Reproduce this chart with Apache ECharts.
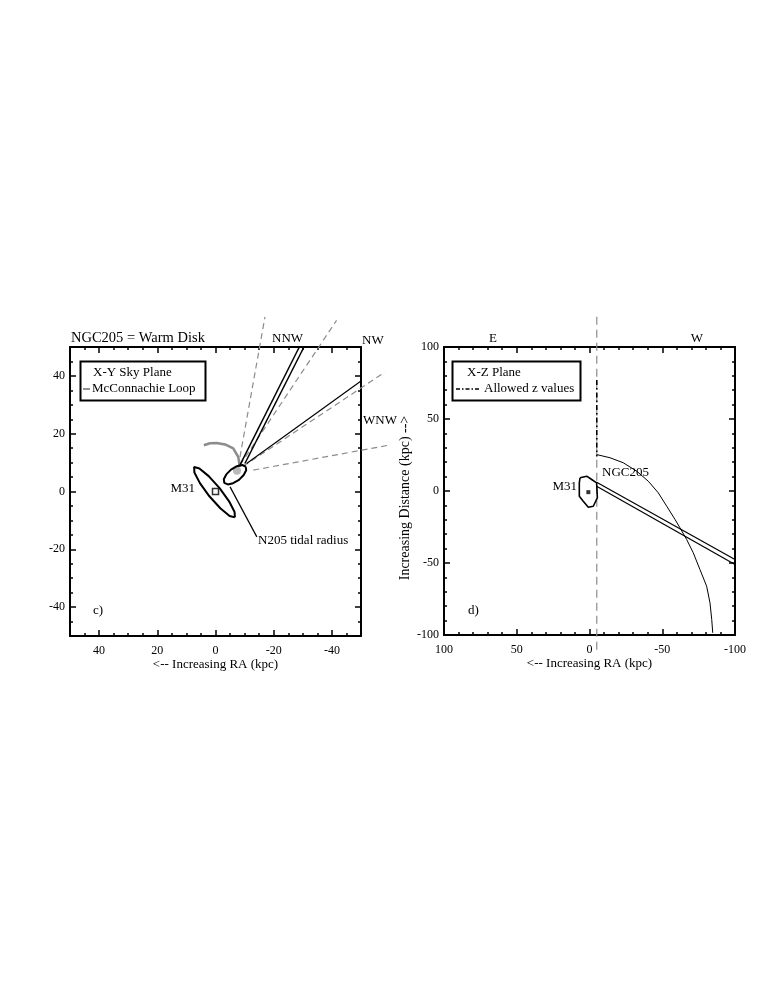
<!DOCTYPE html>
<html><head><meta charset="utf-8">
<script src="https://cdn.jsdelivr.net/npm/echarts@6/dist/echarts.min.js"></script>
<style>html,body{margin:0;padding:0;background:#fff}#c{width:772px;height:998px}</style>
</head><body><div id="c"></div><script>
// ---------- tick labels ----------
const xyMajorTicks = [-40, -20, 0, 20, 40];
const xzMajorTicks = [-100, -50, 0, 50, 100];

// ---------- panel c) X-Y sky plane (kpc) ----------
const m31Ellipse = [[-6.67,-8.95],[-6.56,-7.09],[-4.67,-3.39],[-1.41,1.18],[2.34,5.32],[5.53,7.98],[7.35,8.47],[7.25,6.60],[5.36,2.90],[2.10,-1.66],[-1.65,-5.81],[-4.85,-8.47],[-6.67,-8.95]];
const n205Ellipse = [[-10.38,8.64],[-10.55,7.36],[-9.69,5.70],[-8.08,4.04],[-6.05,2.87],[-4.23,2.45],[-3.02,2.97],[-2.85,4.25],[-3.71,5.91],[-5.33,7.57],[-7.35,8.75],[-9.18,9.16],[-10.38,8.64]];
const m31CenterXY = [[0, 0]];
const n205Core = [[-7.4, 7.2]];
const mcconnachieLoop = [[4.0,16.0],[1.9,16.7],[-0.4,16.8],[-3.3,16.3],[-6.1,14.9],[-7.8,12.0],[-8.4,8.5]];
const nnwLineA = [[-8.4,9.1],[-28.8,50]];
const nnwLineB = [[-10.1,9.7],[-30.4,50]];
const nwLine = [[-10.7,9.7],[-50,38.2]];
const fanDash1 = [[-7.8,8.5],[-17.0,60.4]];
const fanDash2 = [[-8.4,9.1],[-41.6,59.2]];
const fanDash3 = [[-9.5,8.7],[-58.2,41.3]];
const fanDash4 = [[-13.0,7.4],[-59.4,16.0]];
const tidalLeader = [[-5.0,1.6],[-14.2,-15.7]];

// ---------- panel d) X-Z plane (kpc) ----------
const m31Contour = [[6.5,9.2],[1.9,10.3],[-1.5,8.0],[-4.9,5.7],[-5.4,-4.7],[-2.6,-10.6],[0.8,-11.3],[4.3,-7.1],[7.0,-3.6],[7.0,5.7],[6.5,9.2]];
const m31CenterXZ = [[0.8, -0.8]];
const n205Column = [[-5,121],[-5,-112]];
const allowedZ = [[-5,77],[-5,24]];
const boundArc = [[-4.9,25.3],[-14.1,23.1],[-23.2,19.6],[-32.4,13.8],[-40.4,6.8],[-47.3,-1.3],[-53.1,-10.6],[-58.8,-19.8],[-62.2,-25.6],[-66.8,-33.7],[-71.3,-42.9],[-75.9,-54.5],[-80.5,-66.1],[-82.8,-77.6],[-84.0,-89.2],[-84.7,-98.5]];
const losA = [[-4.9,6.1],[-100,-47.6]];
const losB = [[-4.9,3.3],[-100,-51.0]];

// ---------- styling ----------
const FONT = '"Liberation Serif","DejaVu Serif",serif';
const BLACK = '#000';
const GREY = '#8c8c8c';

function lineSeries(name, data, xi, yi, style, clip) {
  return {
    name: name, type: 'line', data: data, xAxisIndex: xi, yAxisIndex: yi,
    symbol: 'none', showSymbol: false, silent: true, clip: clip !== false,
    lineStyle: Object.assign({ color: BLACK, width: 1.3 }, style), z: 3
  };
}

// straight segment that may run past the frame (drawn through the axes' scales, unclipped)
function segSeries(name, pts, xi, yi, color, width, dash) {
  return {
    name: name, type: 'custom', xAxisIndex: xi, yAxisIndex: yi, clip: false, silent: true, z: 3,
    data: [pts[0].concat(pts[1])],
    encode: { x: [0, 2], y: [1, 3] },
    renderItem: function (params, api) {
      const p1 = api.coord([api.value(0), api.value(1)]);
      const p2 = api.coord([api.value(2), api.value(3)]);
      return { type: 'line', shape: { x1: p1[0], y1: p1[1], x2: p2[0], y2: p2[1] },
               style: { stroke: color, lineWidth: width, lineDash: dash || null, fill: null } };
    }
  };
}

function xyAxes(dim, grid, pos, withLabels) {
  const isX = dim === 'x';
  const base = {
    gridIndex: grid, type: 'value', min: -50, max: 50, position: pos,
    inverse: isX, splitLine: { show: false }
  };
  const minor = Object.assign({}, base, {
    interval: 5,
    axisLine: { show: true, onZero: false, lineStyle: { color: BLACK, width: 2 } },
    axisTick: { show: true, inside: true, length: 3, lineStyle: { color: BLACK, width: 1.5 } },
    axisLabel: {
      show: withLabels, interval: 0, margin: isX ? 9 : 5, color: BLACK,
      fontFamily: FONT, fontSize: 12,
      formatter: function (v) { const r = Math.round(v); return xyMajorTicks.indexOf(r) >= 0 ? String(r) : ''; }
    }
  });
  const major = Object.assign({}, base, {
    axisLine: { show: false, onZero: false },
    axisTick: { show: true, inside: true, length: 6, customValues: xyMajorTicks, lineStyle: { color: BLACK, width: 1.5 } },
    axisLabel: { show: false }
  });
  return [minor, major];
}

function xzAxis(dim, grid, pos, withLabels) {
  const isX = dim === 'x';
  return {
    gridIndex: grid, type: 'value', min: -100, max: 100, interval: 50, position: pos,
    inverse: isX, splitLine: { show: false },
    axisLine: { show: true, onZero: false, lineStyle: { color: BLACK, width: 2 } },
    axisTick: { show: true, inside: true, length: 6, lineStyle: { color: BLACK, width: 1.5 } },
    minorTick: { show: true, splitNumber: 5, length: 3, lineStyle: { color: BLACK, width: 1.5 } },
    axisLabel: { show: withLabels, margin: isX ? 9 : 5, color: BLACK, fontFamily: FONT, fontSize: 12 }
  };
}

const xAxes = [].concat(
  xyAxes('x', 0, 'bottom', true),   // 0,1
  xyAxes('x', 0, 'top', false),     // 2,3
  [xzAxis('x', 1, 'bottom', true),  // 4
   xzAxis('x', 1, 'top', false)]    // 5
);
xAxes[0].name = '<-- Increasing RA (kpc)';
xAxes[4].name = '<-- Increasing RA (kpc)';
[0, 4].forEach(function (i) {
  xAxes[i].nameLocation = 'middle';
  xAxes[i].nameGap = 21;
  xAxes[i].nameTextStyle = { fontFamily: FONT, fontSize: 13, color: BLACK };
});

const yAxes = [].concat(
  xyAxes('y', 0, 'left', true),     // 0,1
  xyAxes('y', 0, 'right', false),   // 2,3
  [xzAxis('y', 1, 'left', true),    // 4
   xzAxis('y', 1, 'right', false)]  // 5
);
yAxes[4].name = 'Increasing Distance (kpc) -->';
yAxes[4].nameLocation = 'middle';
yAxes[4].nameRotate = 90;
yAxes[4].nameGap = 32;
yAxes[4].nameTextStyle = { fontFamily: FONT, fontSize: 14, color: BLACK, padding: [0, 14, 0, 0] };

const series = [
  // panel c
  segSeries('fan1', fanDash1, 0, 0, GREY, 1.2, [6, 4]),
  segSeries('fan2', fanDash2, 0, 0, GREY, 1.2, [6, 4]),
  segSeries('fan3', fanDash3, 0, 0, GREY, 1.2, [6, 4]),
  segSeries('fan4', fanDash4, 0, 0, GREY, 1.2, [6, 4]),
  lineSeries('McConnachie Loop', mcconnachieLoop, 0, 0, { color: GREY, width: 2.5 }),
  lineSeries('NNW a', nnwLineA, 0, 0, { width: 1.5 }),
  lineSeries('NNW b', nnwLineB, 0, 0, { width: 1.5 }),
  lineSeries('NW', nwLine, 0, 0, { width: 1.2 }),
  lineSeries('M31 ellipse', m31Ellipse, 0, 0, { width: 2 }),
  lineSeries('N205 ellipse', n205Ellipse, 0, 0, { width: 2 }),
  lineSeries('tidal radius', tidalLeader, 0, 0, { width: 1.2 }),
  { name: 'N205 core', type: 'scatter', data: n205Core, xAxisIndex: 0, yAxisIndex: 0, symbol: 'circle', symbolSize: 8,
    itemStyle: { color: '#b0b0b0', opacity: 0.9 }, silent: true, z: 2 },
  { name: 'M31', type: 'scatter', data: m31CenterXY, xAxisIndex: 0, yAxisIndex: 0, symbol: 'rect', symbolSize: 6,
    itemStyle: { color: '#fff', borderColor: BLACK, borderWidth: 1.5 }, silent: true, z: 4 },
  // panel d
  lineSeries('N205 column', n205Column, 4, 4, { color: GREY, width: 1.2, type: [8, 5] }, false),
  lineSeries('Allowed z values', allowedZ, 4, 4, { width: 1.6, type: [5, 3, 1.5, 3] }),
  lineSeries('bound arc', boundArc, 4, 4, { width: 1 }),
  lineSeries('los a', losA, 4, 4, { width: 1.2 }),
  lineSeries('los b', losB, 4, 4, { width: 1.2 }),
  lineSeries('M31 contour', m31Contour, 4, 4, { width: 1.6 }),
  { name: 'M31 centre', type: 'scatter', data: m31CenterXZ, xAxisIndex: 4, yAxisIndex: 4, symbol: 'rect', symbolSize: 4,
    itemStyle: { color: BLACK }, silent: true, z: 4 }
];

function txt(text, x, y, size, align) {
  return { type: 'text', silent: true, z: 10,
    style: { text: text, x: x, y: y, font: (size || 13) + 'px ' + FONT, fill: BLACK,
             textAlign: align || 'left', textVerticalAlign: 'middle' } };
}

const graphics = [
  // panel c annotations
  txt('NGC205 = Warm Disk', 71, 338, 14.5),
  txt('NNW', 272, 339, 13),
  txt('NW', 362, 341, 13),
  txt('WNW', 363, 421, 13),
  txt('M31', 195, 489, 13, 'right'),
  txt('N205 tidal radius', 258, 541, 13),
  txt('c)', 93, 611, 13),
  { type: 'rect', silent: true, z: 9, shape: { x: 80.5, y: 361.5, width: 125, height: 39 },
    style: { fill: '#fff', stroke: BLACK, lineWidth: 2 } },
  txt('X-Y Sky Plane', 93, 373, 13),
  { type: 'line', silent: true, z: 10, shape: { x1: 83, y1: 389, x2: 90, y2: 389 }, style: { stroke: '#555', lineWidth: 1.3 } },
  txt('McConnachie Loop', 92, 389, 13),
  // panel d annotations
  txt('E', 493, 339, 13, 'center'),
  txt('W', 697, 339, 13, 'center'),
  txt('M31', 577, 487, 13, 'right'),
  txt('NGC205', 602, 473, 13),
  txt('d)', 468, 611, 13),
  { type: 'rect', silent: true, z: 9, shape: { x: 452.5, y: 361.5, width: 128, height: 39 },
    style: { fill: '#fff', stroke: BLACK, lineWidth: 2 } },
  txt('X-Z Plane', 467, 373, 13),
  { type: 'line', silent: true, z: 10, shape: { x1: 456, y1: 389, x2: 481, y2: 389 }, style: { stroke: BLACK, lineWidth: 1.4, lineDash: [4, 2, 1.5, 2] } },
  txt('Allowed z values', 484, 389, 13)
];

const chart = echarts.init(document.getElementById('c'), null, { renderer: 'canvas' });
chart.setOption({
  animation: false,
  backgroundColor: '#fff',
  textStyle: { fontFamily: FONT },
  grid: [
    { left: 70, top: 347, width: 291, height: 289, outerBoundsMode: 'none', containLabel: false },
    { left: 444, top: 347, width: 291, height: 288, outerBoundsMode: 'none', containLabel: false }
  ],
  xAxis: xAxes,
  yAxis: yAxes,
  series: series,
  graphic: graphics
});
</script></body></html>
